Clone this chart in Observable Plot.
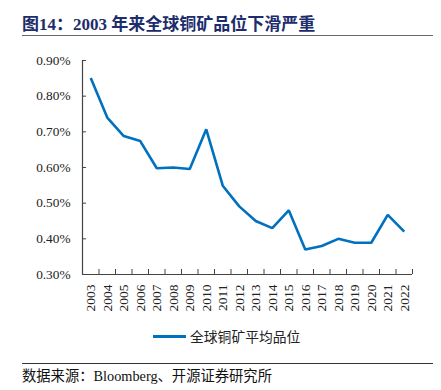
<!DOCTYPE html>
<html>
<head>
<meta charset="utf-8">
<script src="https://cdn.jsdelivr.net/npm/d3@7"></script>
<script src="https://cdn.jsdelivr.net/npm/@observablehq/plot@0.6"></script>
<style>
  html, body { margin: 0; padding: 0; background: #fff; }
  #wrap { position: relative; width: 441px; height: 390px; overflow: hidden; font-family: "Liberation Serif", "Noto Sans CJK SC", serif; }
  #title { position: absolute; left: 22px; top: 10px; font-size: 17px; font-weight: bold; color: #1c2c6c; white-space: nowrap; font-family: "Liberation Serif", "Noto Sans CJK SC", serif; }
  #tline { position: absolute; left: 22px; top: 35px; width: 411px; height: 0; border-top: 1.5px solid #6a6a6a; }
  #chart { position: absolute; left: 0; top: 40px; }
  #legend { position: absolute; left: 153px; top: 327px; height: 18px; display: flex; align-items: center; font-size: 13.8px; color: #222; font-family: "Noto Sans CJK SC", sans-serif; white-space: nowrap; }
  #legend .sw { width: 33px; height: 0; border-top: 3px solid #0070c0; margin-right: 4px; }
  #bline { position: absolute; left: 22px; top: 363px; width: 411px; height: 0; border-top: 1px solid #333; }
  #source { position: absolute; left: 22px; top: 364px; font-size: 14.3px; color: #111; white-space: nowrap; font-family: "Liberation Serif", "Noto Sans CJK SC", serif; }
</style>
</head>
<body>
<div id="wrap">
  <div id="title">图14：2003 年来全球铜矿品位下滑严重</div>
  <div id="tline"></div>
  <div id="chart"></div>
  <div id="legend"><span class="sw"></span><span id="ltext"></span></div>
  <div id="bline"></div>
  <div id="source">数据来源：Bloomberg、开源证券研究所</div>
</div>
<script>
const seriesName = "全球铜矿平均品位";
const years = [2003, 2004, 2005, 2006, 2007, 2008, 2009, 2010, 2011, 2012, 2013, 2014, 2015, 2016, 2017, 2018, 2019, 2020, 2021, 2022];
const grade = [0.851, 0.740, 0.688, 0.674, 0.598, 0.600, 0.596, 0.707, 0.549, 0.491, 0.450, 0.430, 0.480, 0.370, 0.380, 0.400, 0.389, 0.389, 0.467, 0.420];
const yTicks = [0.30, 0.40, 0.50, 0.60, 0.70, 0.80, 0.90];

document.getElementById("ltext").textContent = seriesName;

const data = years.map((y, i) => ({year: y, value: grade[i]}));
const xDomain = [years[0] - 0.5, years[years.length - 1] + 0.5];
const yDomain = [yTicks[0], yTicks[yTicks.length - 1]];
const boundaries = years.map(y => y - 0.5).concat([years[years.length - 1] + 0.5]);

const axisColor = "#444";
const chart = Plot.plot({
  width: 441,
  height: 290,
  marginLeft: 82,
  marginRight: 29,
  marginTop: 20,
  marginBottom: 56,
  style: { fontFamily: "Liberation Serif, serif", background: "white", overflow: "visible" },
  x: { type: "linear", domain: xDomain, label: null },
  y: { type: "linear", domain: yDomain, label: null },
  marks: [
    Plot.axisY(yTicks, { tickSize: -4, stroke: axisColor, tickFormat: () => "", label: null }),
    Plot.axisY(yTicks, { tickSize: 0, tickPadding: 12, fontSize: 13.3, fill: "#222", tickFormat: d => d.toFixed(2) + "%", label: null }),
    Plot.axisX(boundaries, { tickSize: -5, stroke: axisColor, tickFormat: () => "", label: null }),
    Plot.axisX(years, { tickSize: 0, tickPadding: 10, tickRotate: -90, fontSize: 13.5, fill: "#222", tickFormat: d => String(d), label: null }),
    Plot.ruleX([xDomain[0]], { stroke: axisColor, strokeWidth: 1.2 }),
    Plot.ruleY([yDomain[0]], { stroke: axisColor, strokeWidth: 1.2 }),
    Plot.line(data, { x: "year", y: "value", stroke: "#0070c0", strokeWidth: 2.6, strokeLinejoin: "miter", strokeLinecap: "butt" })
  ]
});
document.getElementById("chart").appendChild(chart);
</script>
</body>
</html>
